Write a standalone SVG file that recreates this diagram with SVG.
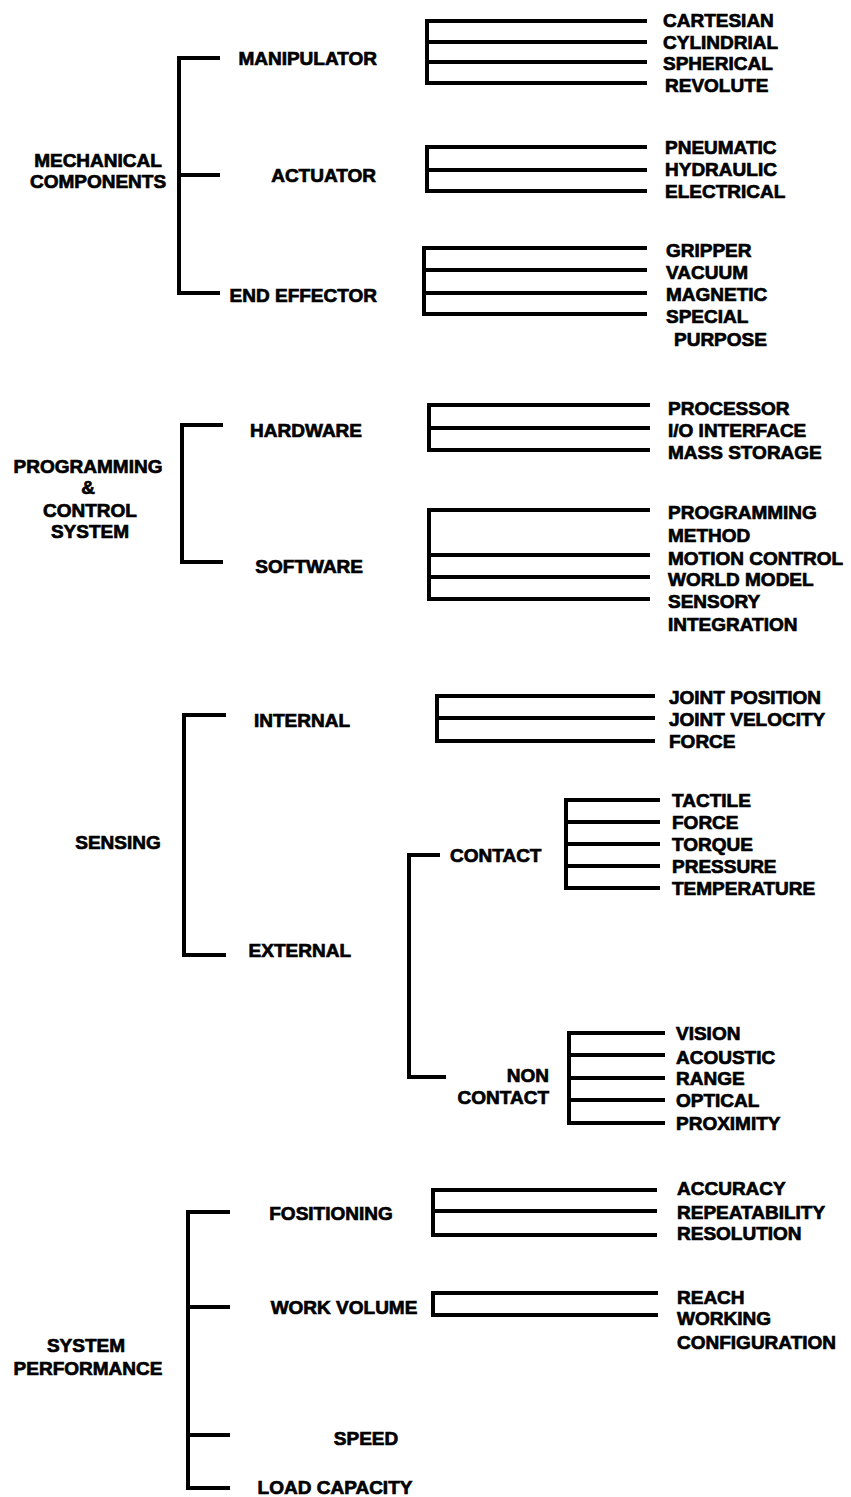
<svg xmlns="http://www.w3.org/2000/svg" width="851" height="1497" viewBox="0 0 851 1497">
<style>
text{font-family:"Liberation Sans",Arial,sans-serif;font-size:19px;font-weight:bold;fill:#000;stroke:#000;stroke-width:0.7}
.m{text-anchor:middle}
.e{text-anchor:end}
.c path{fill:none;stroke:#000;stroke-width:4;stroke-linejoin:miter;stroke-linecap:butt}
</style>
<rect width="851" height="1497" fill="#fff"/>
<g id="connectors" class="c">
<path d="M220,58 H179 V293 H220 M179,175 H220"/>
<path d="M647,21 H427 V83 H647 M427,42 H647 M427,62 H647"/>
<path d="M647,147 H427 V191 H647 M427,170 H647"/>
<path d="M647,248 H424 V314 H647 M424,270 H647 M424,293 H647"/>
<path d="M223,425 H182 V562 H223"/>
<path d="M650,405 H429 V450 H650 M429,428 H650"/>
<path d="M650,510 H429 V599 H650 M429,555 H650 M429,577 H650"/>
<path d="M226,715 H184 V955 H226"/>
<path d="M655,696 H437 V741 H655 M437,718 H655"/>
<path d="M440,855 H409 V1077 H446"/>
<path d="M660,800 H566 V888 H660 M566,822 H660 M566,844 H660 M566,866 H660"/>
<path d="M665,1033 H569 V1123 H665 M569,1055 H665 M569,1078 H665 M569,1100 H665"/>
<path d="M230,1212 H188 V1488 H230 M188,1307 H230 M188,1435 H230"/>
<path d="M657,1190 H433 V1235 H657 M433,1211 H657"/>
<path d="M658,1293 H433 V1315 H658"/>
</g>
<g id="mechanical"><text class="m" x="98" y="167">MECHANICAL</text><text class="m" x="98" y="188">COMPONENTS</text></g>
<g id="manipulator"><text class="e" x="377" y="65">MANIPULATOR</text></g>
<g id="actuator"><text class="e" x="376" y="182">ACTUATOR</text></g>
<g id="end-effector"><text class="e" x="377" y="302">END EFFECTOR</text></g>
<g id="manipulator-types">
<text x="663" y="27">CARTESIAN</text>
<text x="663" y="49">CYLINDRIAL</text>
<text x="663" y="70">SPHERICAL</text>
<text x="665" y="92">REVOLUTE</text>
</g>
<g id="actuator-types">
<text x="665" y="154">PNEUMATIC</text>
<text x="665" y="176">HYDRAULIC</text>
<text x="665" y="198">ELECTRICAL</text>
</g>
<g id="effector-types">
<text x="666" y="257">GRIPPER</text>
<text x="666" y="279">VACUUM</text>
<text x="666" y="301">MAGNETIC</text>
<text x="666" y="323">SPECIAL</text>
<text x="674" y="346">PURPOSE</text>
</g>
<g id="programming"><text class="m" x="88" y="473">PROGRAMMING</text><text class="m" x="88" y="494">&amp;</text><text class="m" x="90" y="517">CONTROL</text><text class="m" x="90" y="538">SYSTEM</text></g>
<g id="hardware"><text class="e" x="362" y="437">HARDWARE</text></g>
<g id="software"><text class="e" x="363" y="573">SOFTWARE</text></g>
<g id="hardware-items">
<text x="668" y="415">PROCESSOR</text>
<text x="668" y="437">I/O INTERFACE</text>
<text x="668" y="459">MASS STORAGE</text>
</g>
<g id="software-items">
<text x="668" y="519">PROGRAMMING</text>
<text x="668" y="542">METHOD</text>
<text x="668" y="565">MOTION CONTROL</text>
<text x="668" y="586">WORLD MODEL</text>
<text x="668" y="608">SENSORY</text>
<text x="668" y="631">INTEGRATION</text>
</g>
<g id="sensing"><text class="m" x="118" y="849">SENSING</text></g>
<g id="internal"><text class="e" x="350" y="727">INTERNAL</text></g>
<g id="external"><text class="e" x="351" y="957">EXTERNAL</text></g>
<g id="internal-items">
<text x="669" y="704">JOINT POSITION</text>
<text x="669" y="726">JOINT VELOCITY</text>
<text x="669" y="748">FORCE</text>
</g>
<g id="contact"><text x="450" y="862">CONTACT</text></g>
<g id="non-contact"><text class="e" x="549" y="1082">NON</text><text class="e" x="549" y="1104">CONTACT</text></g>
<g id="contact-items">
<text x="672" y="807">TACTILE</text>
<text x="672" y="829">FORCE</text>
<text x="672" y="851">TORQUE</text>
<text x="672" y="873">PRESSURE</text>
<text x="672" y="895">TEMPERATURE</text>
</g>
<g id="non-contact-items">
<text x="676" y="1040">VISION</text>
<text x="676" y="1064">ACOUSTIC</text>
<text x="676" y="1085">RANGE</text>
<text x="676" y="1107">OPTICAL</text>
<text x="676" y="1130">PROXIMITY</text>
</g>
<g id="performance"><text class="m" x="86" y="1352">SYSTEM</text><text class="m" x="88" y="1375">PERFORMANCE</text></g>
<g id="positioning"><text class="m" x="331" y="1220">FOSITIONING</text></g>
<g id="work-volume"><text class="m" x="344" y="1314">WORK VOLUME</text></g>
<g id="speed"><text class="m" x="366" y="1445">SPEED</text></g>
<g id="load-capacity"><text class="m" x="335" y="1494">LOAD CAPACITY</text></g>
<g id="positioning-items">
<text x="677" y="1195">ACCURACY</text>
<text x="677" y="1219">REPEATABILITY</text>
<text x="677" y="1240">RESOLUTION</text>
</g>
<g id="work-volume-items">
<text x="677" y="1304">REACH</text>
<text x="677" y="1325">WORKING</text>
<text x="677" y="1349">CONFIGURATION</text>
</g>
</svg>
